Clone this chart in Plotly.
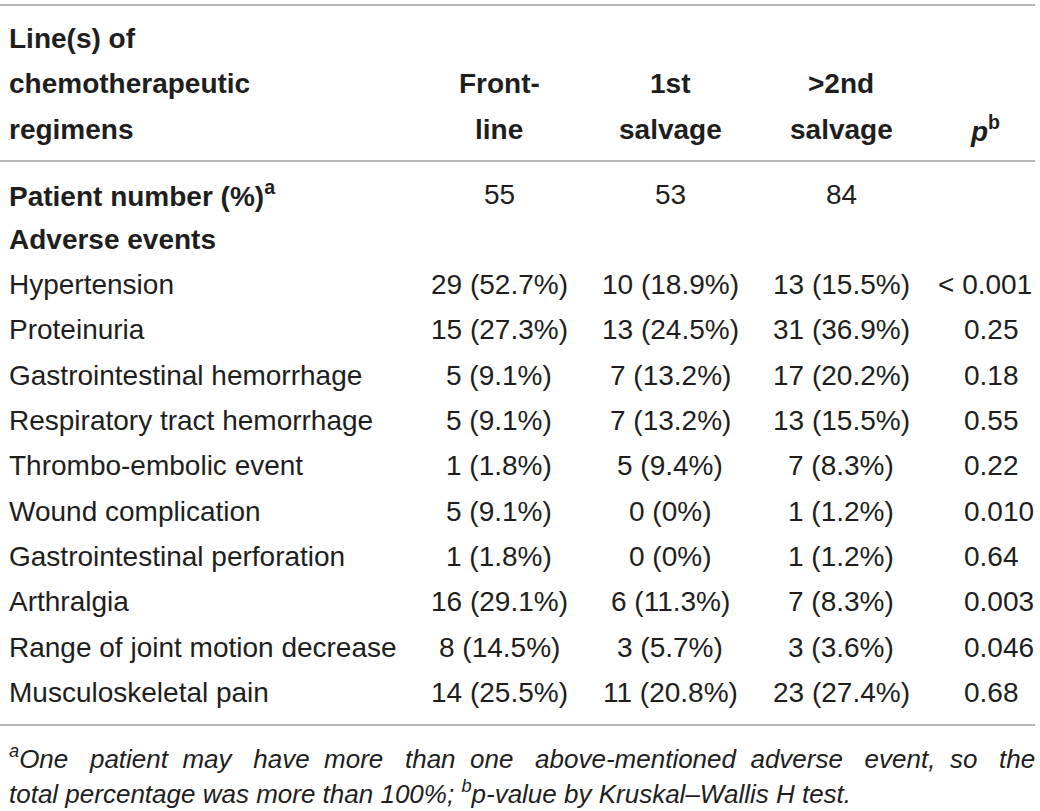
import plotly.graph_objects as go

# ---- data ----
groups = ["Front-<br>line", "1st<br>salvage", ">2nd<br>salvage"]
patient_numbers = [55, 53, 84]
events = ["Hypertension", "Proteinuria", "Gastrointestinal hemorrhage",
          "Respiratory tract hemorrhage", "Thrombo-embolic event",
          "Wound complication", "Gastrointestinal perforation", "Arthralgia",
          "Range of joint motion decrease", "Musculoskeletal pain"]
front_n = [29, 15, 5, 5, 1, 5, 1, 16, 8, 14]
front_pct = [52.7, 27.3, 9.1, 9.1, 1.8, 9.1, 1.8, 29.1, 14.5, 25.5]
salv1_n = [10, 13, 7, 7, 5, 0, 0, 6, 3, 11]
salv1_pct = [18.9, 24.5, 13.2, 13.2, 9.4, 0, 0, 11.3, 5.7, 20.8]
salv2_n = [13, 31, 17, 13, 7, 1, 1, 7, 3, 23]
salv2_pct = [15.5, 36.9, 20.2, 15.5, 8.3, 1.2, 1.2, 8.3, 3.6, 27.4]
p_values = ["< 0.001", "0.25", "0.18", "0.55", "0.22", "0.010", "0.64",
            "0.003", "0.046", "0.68"]
footnote_1 = ["One", "patient", "may", "have", "more", "than", "one", "above-mentioned",
              "adverse", "event,", "so", "the"]
footnote_2 = "total percentage was more than 100%; <sup>b</sup>p-value by Kruskal–Wallis H test."

# ---- layout constants ----
FONT = "Liberation Sans"
FS = 28
FSB = 28
TXT = "#1e1e1e"
LINE = "#a0a0a0"
col_x = [499, 670, 841]
p_x = 962
p_hdr_x = 985
label_x = 7
row0 = 194
step = 45.3

fig = go.Figure()
ann = []

def add(x, y, text, anchor="center", size=FS):
    ann.append(dict(x=x, y=y, xref="x", yref="y", text=text, showarrow=False,
                    xanchor=anchor, yanchor="middle", align=anchor if anchor != "center" else "center",
                    font=dict(family=FONT, size=size, color=TXT)))

# header
header_lines = ["Line(s) of", "chemotherapeutic", "regimens"]
for i, t in enumerate(header_lines):
    add(label_x, 38 + i * 45.5, "<b>" + t + "</b>", "left", FSB)
for g, x in zip(groups, col_x):
    top, bot = g.split("<br>")
    add(x, 83.5, "<b>" + top + "</b>", size=FSB)
    add(x, 129, "<b>" + bot + "</b>", size=FSB)
add(p_hdr_x, 129, "<b><i>p</i><sup>b</sup></b>", size=FSB)

# patient number row
add(label_x, row0, "<b>Patient number (%)<sup>a</sup></b>", "left", FSB)
for v, x in zip(patient_numbers, col_x):
    add(x, row0, str(v))
add(label_x, row0 + step, "<b>Adverse events</b>", "left", FSB)

def fmt(n, p):
    return f"{n} ({p:g}%)"

for i, ev in enumerate(events):
    y = row0 + (i + 2) * step
    add(label_x, y, ev, "left")
    add(col_x[0], y, fmt(front_n[i], front_pct[i]))
    add(col_x[1], y, fmt(salv1_n[i], salv1_pct[i]))
    add(col_x[2], y, fmt(salv2_n[i], salv2_pct[i]))
    pv = p_values[i]
    add(p_x - (26 if pv.startswith("<") else 0), y, pv, "left")

# footnote (first line justified with extra non-breaking spaces)
NB = "\u00a0"
extra = [2, 1, 2, 1, 2, 1, 2, 1, 2, 1, 2]
line1 = footnote_1[0]
for w, e in zip(footnote_1[1:], extra):
    line1 += " " + NB * e + w
FSF = 26
ann.append(dict(x=label_x, y=757, xref="x", yref="y", text="<i><sup>a</sup>" + line1 + "</i>",
                showarrow=False, xanchor="left", yanchor="middle", align="left",
                font=dict(family=FONT, size=FSF, color=TXT)))
ann.append(dict(x=label_x, y=792, xref="x", yref="y", text="<i>" + footnote_2 + "</i>",
                showarrow=False, xanchor="left", yanchor="middle", align="left",
                font=dict(family=FONT, size=FSF, color=TXT)))

shapes = []
for y in [5, 161, 725]:
    shapes.append(dict(type="line", xref="x", yref="y", x0=0, x1=1035, y0=y, y1=y,
                       line=dict(color=LINE, width=1.5)))

fig.update_layout(
    width=1040, height=811,
    margin=dict(l=0, r=0, t=0, b=0),
    paper_bgcolor="white", plot_bgcolor="white",
    xaxis=dict(range=[0, 1040], visible=False, fixedrange=True),
    yaxis=dict(range=[811, 0], visible=False, fixedrange=True),
    annotations=ann, shapes=shapes, showlegend=False,
)
fig.write_html("out.html", config={"displayModeBar": False},
               post_script="document.body.style.margin='0px';document.body.style.overflow='hidden';")
